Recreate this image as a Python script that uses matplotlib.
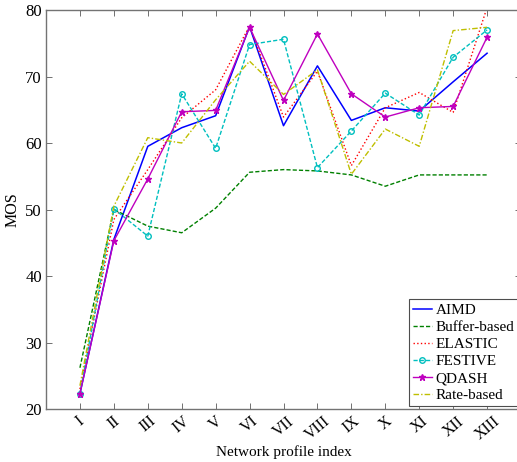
import matplotlib
matplotlib.use("Agg")
import matplotlib.pyplot as plt
import numpy as np

labels = ["I", "II", "III", "IV", "V", "VI", "VII", "VIII", "IX", "X", "XI", "XII", "XIII"]
aimd = [22.3, 45.5, 59.5, 62.3, 64.1, 77.5, 62.6, 71.6, 63.4, 65.3, 64.8, 69.2, 73.5]
buffer_based = [26.2, 50.0, 47.5, 46.5, 50.2, 55.6, 56.0, 55.8, 55.2, 53.5, 55.2, 55.2, 55.2]
elastic = [23.0, 48.5, 56.0, 63.8, 68.0, 77.6, 63.9, 70.8, 56.6, 65.3, 67.6, 64.6, 80.4]
festive = [22.3, 50.1, 46.0, 67.4, 59.2, 74.8, 75.6, 56.3, 61.8, 67.5, 64.2, 72.9, 77.0]
qdash = [22.3, 45.3, 54.6, 64.7, 64.9, 77.4, 66.4, 76.4, 67.4, 63.9, 65.3, 65.5, 75.9]
rate_based = [23.5, 50.5, 60.8, 60.0, 66.5, 72.3, 67.3, 71.0, 55.3, 62.1, 59.5, 76.9, 77.4]

plt.rcParams['font.family'] = ['Liberation Serif', 'DejaVu Serif']

W, H = 517, 462
fig = plt.figure(figsize=(W / 100, H / 100), dpi=100)
ax = fig.add_axes([46 / W, 1 - 409 / H, (521 - 46) / W, (409 - 10) / H])

x = np.arange(1, len(labels) + 1)
ax.plot(x, aimd, color=(0, 0, 1), lw=1.1, ls='-', label='AIMD')
ax.plot(x, buffer_based, color=(0, 0.5, 0), lw=1.0, ls='--', dashes=(3, 1.5), label='Buffer-based')
ax.plot(x, elastic, color=(1, 0, 0), lw=1.0, ls=':', label='ELASTIC')
ax.plot(x, festive, color=(0, 0.75, 0.75), lw=1.0, ls='--', dashes=(3, 1.5), marker='o', ms=4,
        mfc='none', mew=1.0, label='FESTIVE')
ax.plot(x, qdash, color=(0.75, 0, 0.75), lw=1.0, ls='-', marker='*', ms=5, label='QDASH')
ax.plot(x, rate_based, color=(0.75, 0.75, 0), lw=1.0, ls='-.', dashes=(4, 1.5, 1, 1.5), label='Rate-based')

ax.set_xlim(0, 14)
ax.set_ylim(20, 80)
ax.set_xticks(x)
ax.set_xticklabels(labels, rotation=40, fontsize=11.5)
ax.set_yticks([20, 30, 40, 50, 60, 70, 80])
ax.tick_params(axis='y', labelsize=12)
ax.tick_params(direction='in', top=True, right=True, length=4, width=0.6, color='0.35', pad=3)
for s in ax.spines.values():
    s.set_color('0.45')
    s.set_linewidth(1.0)

ax.set_xlabel('Network profile index', fontsize=11, labelpad=2)
ax.set_ylabel('MOS', fontsize=11.5, labelpad=3)

leg = ax.legend(loc='lower right', bbox_to_anchor=(518 / W, 1 - 406 / H),
                bbox_transform=fig.transFigure, borderaxespad=0, fontsize=11,
                handlelength=1.3, handletextpad=0.2, labelspacing=0.22,
                borderpad=0.25, fancybox=False, framealpha=1)
leg.get_frame().set_edgecolor('0.3')
leg.get_frame().set_linewidth(0.8)

fig.savefig('out.png', dpi=100)
